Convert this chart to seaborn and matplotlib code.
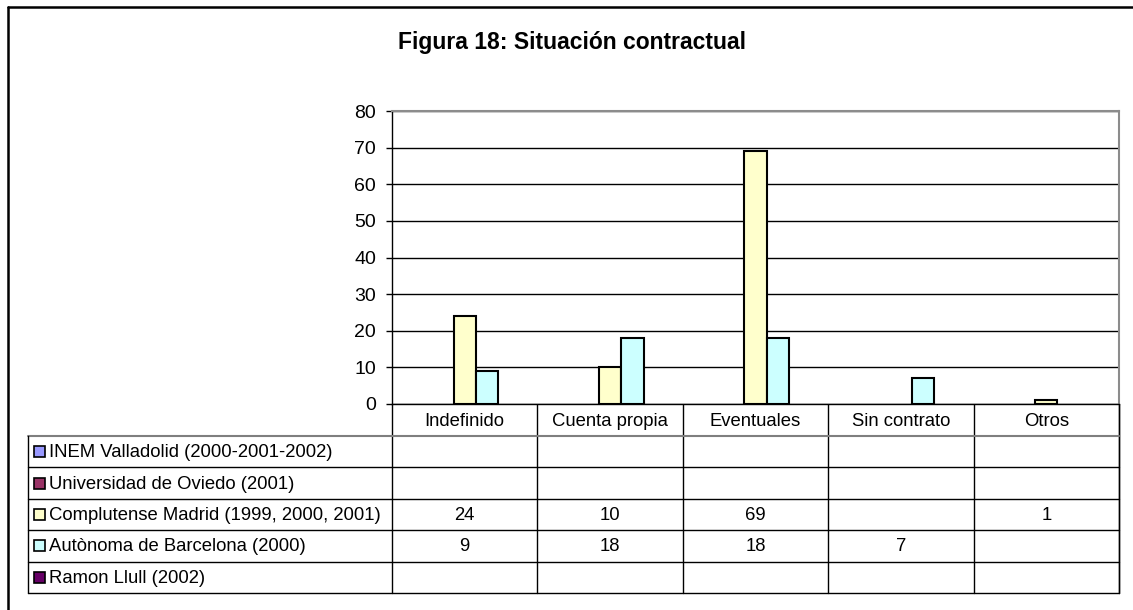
import numpy as np
import pandas as pd
import matplotlib
matplotlib.use("Agg")
import matplotlib.pyplot as plt
import seaborn as sns

categories = ["Indefinido", "Cuenta propia", "Eventuales", "Sin contrato", "Otros"]
series_names = ["INEM Valladolid (2000-2001-2002)",
                "Universidad de Oviedo (2001)",
                "Complutense Madrid (1999, 2000, 2001)",
                "Autònoma de Barcelona (2000)",
                "Ramon Llull (2002)"]
inem = [np.nan, np.nan, np.nan, np.nan, np.nan]
oviedo = [np.nan, np.nan, np.nan, np.nan, np.nan]
complutense = [24, 10, 69, np.nan, 1]
autonoma = [9, 18, 18, 7, np.nan]
ramon = [np.nan, np.nan, np.nan, np.nan, np.nan]
colors = ["#9999FF", "#993366", "#FFFFCC", "#CCFFFF", "#660066"]
yticks = [0, 10, 20, 30, 40, 50, 60, 70, 80]
title = "Figura 18: Situación contractual"

all_values = [inem, oviedo, complutense, autonoma, ramon]
rows = []
for s, vals in zip(series_names, all_values):
    for c, v in zip(categories, vals):
        rows.append({"cat": c, "series": s, "value": v})
df = pd.DataFrame(rows)

sns.set_theme(style="white")
plt.rcParams["font.family"] = ["Liberation Sans", "DejaVu Sans"]
plt.rcParams["text.color"] = "black"
plt.rcParams["ytick.color"] = "black"
plt.rcParams["ytick.labelcolor"] = "black"

FS = 13.3
W, H = 1133, 610
fig = plt.figure(figsize=(W / 100, H / 100), dpi=100)
fig.patch.set_facecolor("white")

L, R, T, B = 392, 1119, 111, 404
ax = fig.add_axes([L / W, 1 - B / H, (R - L) / W, (B - T) / H])
sns.barplot(data=df.dropna(), x="cat", y="value", hue="series",
            order=categories, hue_order=series_names, palette=colors,
            width=0.77, gap=0, edgecolor="black", linewidth=1.5,
            legend=False, ax=ax, errorbar=None, saturation=1)
ax.set_xlim(-0.5, len(categories) - 0.5)
ax.set_ylim(0, 80)
ax.set_yticks(yticks)
ax.set_yticklabels([str(t) for t in yticks], fontsize=14, color="black")
ax.set_xticks([])
ax.set_xlabel("")
ax.set_ylabel("")
ax.yaxis.grid(True, color="black", linewidth=1)
ax.set_axisbelow(True)
ax.tick_params(axis="y", direction="out", length=4.5, width=1, color="black",
               pad=7, left=True)
for side in ["top", "right"]:
    ax.spines[side].set_color("#8c8c8c")
    ax.spines[side].set_linewidth(1.5)
for side in ["left", "bottom"]:
    ax.spines[side].set_color("black")
    ax.spines[side].set_linewidth(1)

# overlay for table, frame and title (pixel coordinates)
ov = fig.add_axes([0, 0, 1, 1], zorder=-1)
ov.set_xlim(0, W)
ov.set_ylim(H, 0)
ov.axis("off")

ov.plot([8, W], [7, 7], color="black", lw=1.8)
ov.plot([8, 8], [7, H], color="black", lw=1.8)

ov.text(572, 43, title, ha="center", va="center", fontsize=16.5, fontweight="bold")

tab_left = 28
row_top = 436
row_h = (593 - 436) / 5
ncol = len(categories)
col_w = (R - L) / ncol
col_x = [L + i * col_w for i in range(ncol + 1)]

# header
for i, c in enumerate(categories):
    ov.text((col_x[i] + col_x[i + 1]) / 2, (B + row_top) / 2 + 1, c,
            ha="center", va="center", fontsize=FS)
for x in col_x:
    ov.plot([x, x], [B, 593], color="black", lw=1)
ov.plot([R, R], [B, 593], color="black", lw=1)
ov.plot([tab_left, R], [row_top, row_top], color="#7f7f7f", lw=1.5)
for k in range(1, 6):
    y = row_top + k * row_h
    ov.plot([tab_left, R], [y, y], color="black", lw=1)
ov.plot([tab_left, tab_left], [row_top, 593], color="black", lw=1)

for r, (s, vals, col) in enumerate(zip(series_names, all_values, colors)):
    yc = row_top + (r + 0.5) * row_h
    ov.add_patch(plt.Rectangle((34, yc - 5.5), 11, 11, facecolor=col,
                               edgecolor="black", lw=1.2))
    ov.text(49, yc + 1, s, ha="left", va="center", fontsize=FS)
    for i, v in enumerate(vals):
        if not np.isnan(v):
            ov.text((col_x[i] + col_x[i + 1]) / 2, yc + 1, f"{int(v)}",
                    ha="center", va="center", fontsize=FS)

fig.savefig("out.png", dpi=100, facecolor="white")
